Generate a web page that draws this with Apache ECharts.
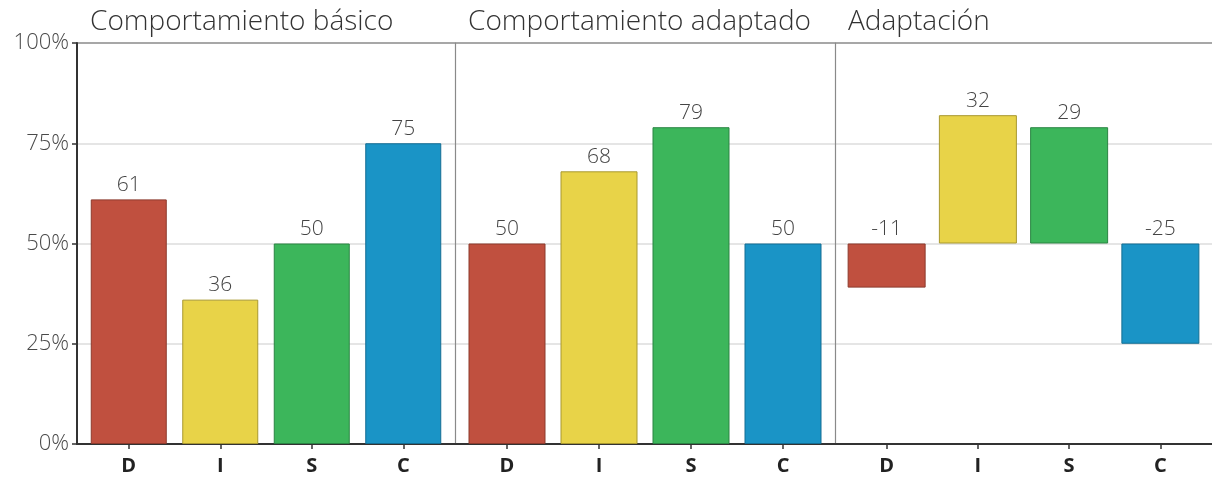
<!DOCTYPE html>
<html>
<head>
<meta charset="utf-8">
<script src="https://cdn.jsdelivr.net/npm/echarts@6/dist/echarts.min.js"></script>
<style>
  html, body { margin: 0; padding: 0; background: #fff; }
  #chart { width: 1212px; height: 479px; }
</style>
</head>
<body>
<div id="chart"></div>
<script>
// DISC profile: basic behaviour, adapted behaviour and the adaptation between them
const categories = ['D', 'I', 'S', 'C'];
const panelTitles = ['Comportamiento básico', 'Comportamiento adaptado', 'Adaptación'];
const basicValues = [61, 36, 50, 75];
const adaptedValues = [50, 68, 79, 50];
const adaptationValues = [-11, 32, 29, -25];
const yTicks = [0, 25, 50, 75, 100];
const adaptationBaseline = 50;

const barColors = ['#c0503f', '#e8d348', '#3cb65b', '#1a94c6'];
const barBorders = ['#8c3a2d', '#a8982f', '#2a8443', '#136d93'];

const FONT = '"Open Sans", Lato, sans-serif';
const plotTop = 43, plotBottom = 35, plotLeft = 77;
const panels = [
  { left: 77, width: 378, barWidth: 76 },
  { left: 455, width: 380, barWidth: 77 },
  { left: 835, width: 377, barWidth: 78 }
];
const pad = 6;

const chart = echarts.init(document.getElementById('chart'));

const grids = [];
const xAxes = [];
const yAxes = [];
const series = [];
const titles = [];

// background grid: shared percentage scale, gridlines and the bottom axis line
grids.push({ left: plotLeft, right: 0, top: plotTop, bottom: plotBottom });
xAxes.push({
  gridIndex: 0, type: 'value', min: 0, max: 1,
  axisLine: { show: true, onZero: false, lineStyle: { color: '#333', width: 2 } },
  axisTick: { show: false }, axisLabel: { show: false }, splitLine: { show: false }
});
yAxes.push({
  gridIndex: 0, type: 'value', min: yTicks[0], max: yTicks[yTicks.length - 1], interval: 25,
  axisLine: { show: true, lineStyle: { color: '#333', width: 2 } },
  axisTick: { show: true, length: 5, lineStyle: { color: '#333', width: 1.5 } },
  axisLabel: {
    formatter: '{value}%', color: '#4a4a4a', fontFamily: FONT, fontWeight: 300, fontSize: 22, margin: 8
  },
  splitLine: { show: true, lineStyle: { color: ['#333', '#dcdcdc', '#dcdcdc', '#dcdcdc', '#8a8a8a'], width: 1.5 } }
});

panels.forEach((p, i) => {
  const g = i + 1;
  grids.push({ left: p.left + pad, width: p.width - 2 * pad, top: plotTop, bottom: plotBottom });
  xAxes.push({
    gridIndex: g, type: 'category', data: categories,
    axisLine: { show: false },
    axisTick: { show: true, alignWithLabel: true, length: 5, lineStyle: { color: '#333', width: 1.5 } },
    axisLabel: { color: '#222', fontFamily: FONT, fontWeight: 'bold', fontSize: 20, margin: 12 },
    splitLine: { show: false }
  });
  yAxes.push({
    gridIndex: g, type: 'value', min: 0, max: 100, interval: 25, offset: pad,
    axisLine: { show: i > 0, lineStyle: { color: '#8a8a8a', width: 1.2 } },
    axisTick: { show: false }, axisLabel: { show: false }, splitLine: { show: false }
  });
  titles.push({
    text: panelTitles[i], left: p.left + 13, top: 8, padding: 0,
    textStyle: { fontFamily: FONT, fontWeight: 300, fontSize: 28, color: '#333' }
  });
});

const labelStyle = {
  show: true, position: 'top', distance: 4,
  color: '#444', fontFamily: FONT, fontWeight: 300, fontSize: 21
};
const itemFor = (v, k) => ({
  value: v,
  itemStyle: { color: barColors[k], borderColor: barBorders[k], borderWidth: 1 }
});

// panels 1 and 2: plain bars from 0
[basicValues, adaptedValues].forEach((vals, i) => {
  series.push({
    type: 'bar', xAxisIndex: i + 1, yAxisIndex: i + 1, barWidth: panels[i].barWidth,
    data: vals.map(itemFor), label: labelStyle
  });
});

// panel 3: bars grow up or down from the 50% baseline (transparent base + visible part)
series.push({
  type: 'bar', xAxisIndex: 3, yAxisIndex: 3, barWidth: panels[2].barWidth, stack: 'adapt', silent: true,
  itemStyle: { color: 'transparent' },
  data: adaptationValues.map(d => Math.min(adaptationBaseline, adaptationBaseline + d))
});
series.push({
  type: 'bar', xAxisIndex: 3, yAxisIndex: 3, barWidth: panels[2].barWidth, stack: 'adapt',
  data: adaptationValues.map((d, k) => itemFor(Math.abs(d), k)),
  label: Object.assign({}, labelStyle, {
    formatter: p => String(adaptationValues[p.dataIndex])
  })
});

chart.setOption({
  animation: false,
  backgroundColor: '#fff',
  title: titles,
  grid: grids,
  xAxis: xAxes,
  yAxis: yAxes,
  series: series
});
</script>
</body>
</html>
